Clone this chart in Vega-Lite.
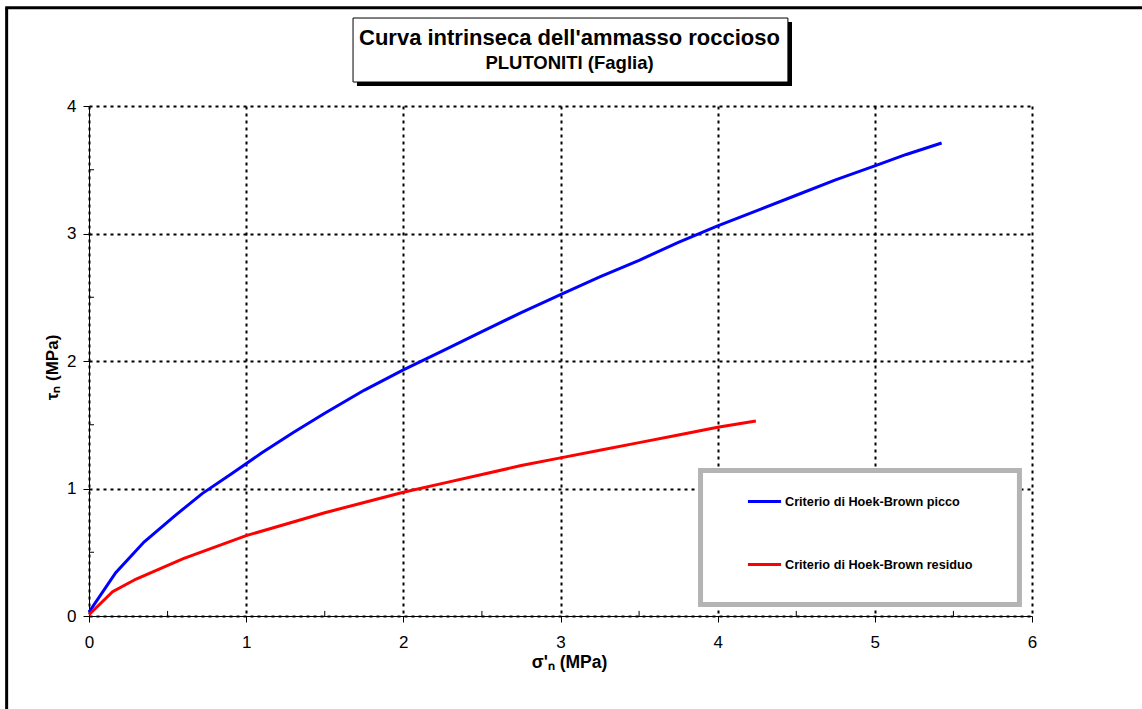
{
  "$schema": "https://vega.github.io/schema/vega-lite/v6.json",
  "width": 943,
  "height": 510,
  "autosize": {"type": "none"},
  "padding": {"left": 89, "top": 106, "right": 110, "bottom": 93},
  "background": "white",
  "config": {
    "font": "Liberation Sans",
    "view": {"stroke": null}
  },
  "title": {
    "text": "Curva intrinseca dell'ammasso roccioso",
    "subtitle": "PLUTONITI (Faglia)",
    "font": "Liberation Sans",
    "fontSize": 22,
    "fontWeight": "bold",
    "color": "black",
    "subtitleFont": "Liberation Sans",
    "subtitleFontSize": 18.5,
    "subtitleFontWeight": "bold",
    "subtitleColor": "black",
    "subtitlePadding": 4,
    "anchor": "middle",
    "frame": "group",
    "dx": 9,
    "offset": -67
  },
  "datasets": {
    "curves": [
      {"sigma": 0.0, "tau": 0.03, "series": "Criterio di Hoek-Brown picco"},
      {"sigma": 0.17, "tau": 0.34, "series": "Criterio di Hoek-Brown picco"},
      {"sigma": 0.35, "tau": 0.58, "series": "Criterio di Hoek-Brown picco"},
      {"sigma": 0.54, "tau": 0.78, "series": "Criterio di Hoek-Brown picco"},
      {"sigma": 0.72, "tau": 0.96, "series": "Criterio di Hoek-Brown picco"},
      {"sigma": 0.9, "tau": 1.11, "series": "Criterio di Hoek-Brown picco"},
      {"sigma": 1.1, "tau": 1.28, "series": "Criterio di Hoek-Brown picco"},
      {"sigma": 1.3, "tau": 1.44, "series": "Criterio di Hoek-Brown picco"},
      {"sigma": 1.5, "tau": 1.59, "series": "Criterio di Hoek-Brown picco"},
      {"sigma": 1.75, "tau": 1.77, "series": "Criterio di Hoek-Brown picco"},
      {"sigma": 2.0, "tau": 1.93, "series": "Criterio di Hoek-Brown picco"},
      {"sigma": 2.25, "tau": 2.08, "series": "Criterio di Hoek-Brown picco"},
      {"sigma": 2.5, "tau": 2.23, "series": "Criterio di Hoek-Brown picco"},
      {"sigma": 2.75, "tau": 2.38, "series": "Criterio di Hoek-Brown picco"},
      {"sigma": 3.0, "tau": 2.52, "series": "Criterio di Hoek-Brown picco"},
      {"sigma": 3.25, "tau": 2.66, "series": "Criterio di Hoek-Brown picco"},
      {"sigma": 3.5, "tau": 2.79, "series": "Criterio di Hoek-Brown picco"},
      {"sigma": 3.75, "tau": 2.93, "series": "Criterio di Hoek-Brown picco"},
      {"sigma": 4.0, "tau": 3.06, "series": "Criterio di Hoek-Brown picco"},
      {"sigma": 4.25, "tau": 3.18, "series": "Criterio di Hoek-Brown picco"},
      {"sigma": 4.5, "tau": 3.3, "series": "Criterio di Hoek-Brown picco"},
      {"sigma": 4.75, "tau": 3.42, "series": "Criterio di Hoek-Brown picco"},
      {"sigma": 5.0, "tau": 3.53, "series": "Criterio di Hoek-Brown picco"},
      {"sigma": 5.2, "tau": 3.62, "series": "Criterio di Hoek-Brown picco"},
      {"sigma": 5.425, "tau": 3.71, "series": "Criterio di Hoek-Brown picco"},
      {"sigma": 0.0, "tau": 0.01, "series": "Criterio di Hoek-Brown residuo"},
      {"sigma": 0.15, "tau": 0.19, "series": "Criterio di Hoek-Brown residuo"},
      {"sigma": 0.3, "tau": 0.29, "series": "Criterio di Hoek-Brown residuo"},
      {"sigma": 0.45, "tau": 0.37, "series": "Criterio di Hoek-Brown residuo"},
      {"sigma": 0.6, "tau": 0.45, "series": "Criterio di Hoek-Brown residuo"},
      {"sigma": 0.8, "tau": 0.54, "series": "Criterio di Hoek-Brown residuo"},
      {"sigma": 1.0, "tau": 0.63, "series": "Criterio di Hoek-Brown residuo"},
      {"sigma": 1.25, "tau": 0.72, "series": "Criterio di Hoek-Brown residuo"},
      {"sigma": 1.5, "tau": 0.81, "series": "Criterio di Hoek-Brown residuo"},
      {"sigma": 1.75, "tau": 0.89, "series": "Criterio di Hoek-Brown residuo"},
      {"sigma": 2.0, "tau": 0.97, "series": "Criterio di Hoek-Brown residuo"},
      {"sigma": 2.25, "tau": 1.04, "series": "Criterio di Hoek-Brown residuo"},
      {"sigma": 2.5, "tau": 1.11, "series": "Criterio di Hoek-Brown residuo"},
      {"sigma": 2.75, "tau": 1.18, "series": "Criterio di Hoek-Brown residuo"},
      {"sigma": 3.0, "tau": 1.24, "series": "Criterio di Hoek-Brown residuo"},
      {"sigma": 3.25, "tau": 1.3, "series": "Criterio di Hoek-Brown residuo"},
      {"sigma": 3.5, "tau": 1.36, "series": "Criterio di Hoek-Brown residuo"},
      {"sigma": 3.75, "tau": 1.42, "series": "Criterio di Hoek-Brown residuo"},
      {"sigma": 4.0, "tau": 1.48, "series": "Criterio di Hoek-Brown residuo"},
      {"sigma": 4.243, "tau": 1.53, "series": "Criterio di Hoek-Brown residuo"}
    ],
    "minorX": [{"v": 0.5}, {"v": 1.5}, {"v": 2.5}, {"v": 3.5}, {"v": 4.5}, {"v": 5.5}],
    "minorY": [{"v": 0.5}, {"v": 1.5}, {"v": 2.5}, {"v": 3.5}],
    "one": [{"k": 1}]
  },
  "layer": [
    {
      "data": {"name": "curves"},
      "mark": {"type": "line", "strokeWidth": 3, "clip": false},
      "encoding": {
        "x": {
          "field": "sigma", "type": "quantitative",
          "scale": {"domain": [0, 6], "nice": false, "zero": false},
          "axis": {
            "values": [0, 1, 2, 3, 4, 5, 6], "format": "d", "labelFlush": false,
            "title": "σ'ₙ (MPa)", "titleX": 480,
            "labelFont": "Liberation Sans", "labelFontSize": 17, "labelColor": "black", "labelPadding": 12,
            "titleFont": "Liberation Sans", "titleFontSize": 17.5, "titleFontWeight": "bold", "titleColor": "black", "titlePadding": 3,
            "domainColor": "black", "domainWidth": 1, "tickColor": "black", "tickSize": 6, "tickWidth": 1,
            "grid": true, "gridColor": "black", "gridDash": [3, 4], "gridWidth": 2, "gridOpacity": 1
          }
        },
        "y": {
          "field": "tau", "type": "quantitative",
          "scale": {"domain": [0, 4], "nice": false, "zero": false},
          "axis": {
            "values": [0, 1, 2, 3, 4], "format": "d", "labelFlush": false,
            "title": "τₙ (MPa)", "titleY": 261,
            "labelFont": "Liberation Sans", "labelFontSize": 17, "labelColor": "black", "labelPadding": 7,
            "titleFont": "Liberation Sans", "titleFontSize": 17, "titleFontWeight": "bold", "titleColor": "black", "titlePadding": 5,
            "domainColor": "black", "domainWidth": 1, "tickColor": "black", "tickSize": 6, "tickWidth": 1,
            "grid": true, "gridColor": "black", "gridDash": [3, 4], "gridWidth": 2, "gridOpacity": 1
          }
        },
        "color": {
          "field": "series", "type": "nominal",
          "scale": {"domain": ["Criterio di Hoek-Brown picco", "Criterio di Hoek-Brown residuo"], "range": ["#0000ff", "#ff0000"]},
          "legend": {
            "title": null,
            "orient": "none",
            "legendX": 657,
            "legendY": 377,
            "padding": 0,
            "symbolType": "stroke",
            "symbolSize": 1100,
            "symbolStrokeWidth": 3,
            "labelFont": "Liberation Sans",
            "labelFontSize": 12.7,
            "labelFontWeight": "bold",
            "labelColor": "black",
            "labelOffset": 2,
            "labelLimit": 300,
            "rowPadding": 37
          }
        },
        "order": {"field": "sigma", "type": "quantitative"}
      }
    },
    {
      "data": {"name": "one"},
      "mark": {"type": "rule", "color": "black", "strokeWidth": 3, "clip": false},
      "encoding": {
        "x": {"datum": -0.524, "type": "quantitative"},
        "y": {"datum": -1, "type": "quantitative"},
        "y2": {"datum": 4.771}
      }
    },
    {
      "data": {"name": "one"},
      "mark": {"type": "rule", "color": "black", "strokeWidth": 3, "clip": false},
      "encoding": {
        "x": {"datum": -0.533, "type": "quantitative"},
        "x2": {"datum": 7.5},
        "y": {"datum": 4.771, "type": "quantitative"}
      }
    },
    {
      "data": {"name": "one"},
      "mark": {"type": "rect", "color": "black", "clip": false},
      "encoding": {
        "x": {"datum": 1.705, "type": "quantitative"},
        "x2": {"datum": 4.473},
        "y": {"datum": 4.659, "type": "quantitative"},
        "y2": {"datum": 4.157}
      }
    },
    {
      "data": {"name": "one"},
      "mark": {"type": "rect", "fill": "white", "stroke": "black", "strokeWidth": 1, "clip": false},
      "encoding": {
        "x": {"datum": 1.68, "type": "quantitative"},
        "x2": {"datum": 4.447},
        "y": {"datum": 4.69, "type": "quantitative"},
        "y2": {"datum": 4.188}
      }
    },
    {
      "data": {"name": "one"},
      "mark": {"type": "rect", "fill": "white", "stroke": "#b4b4b4", "strokeWidth": 5, "clip": false},
      "encoding": {
        "x": {"datum": 3.891, "type": "quantitative"},
        "x2": {"datum": 5.92},
        "y": {"datum": 1.141, "type": "quantitative"},
        "y2": {"datum": 0.09}
      }
    },
    {
      "data": {"name": "minorX"},
      "mark": {"type": "rule", "color": "black", "strokeWidth": 1},
      "encoding": {
        "x": {"field": "v", "type": "quantitative"},
        "y": {"datum": 0, "type": "quantitative"},
        "y2": {"datum": 0.04}
      }
    },
    {
      "data": {"name": "minorY"},
      "mark": {"type": "rule", "color": "black", "strokeWidth": 1},
      "encoding": {
        "y": {"field": "v", "type": "quantitative"},
        "x": {"datum": 0, "type": "quantitative"},
        "x2": {"datum": 0.032}
      }
    }
  ]
}
